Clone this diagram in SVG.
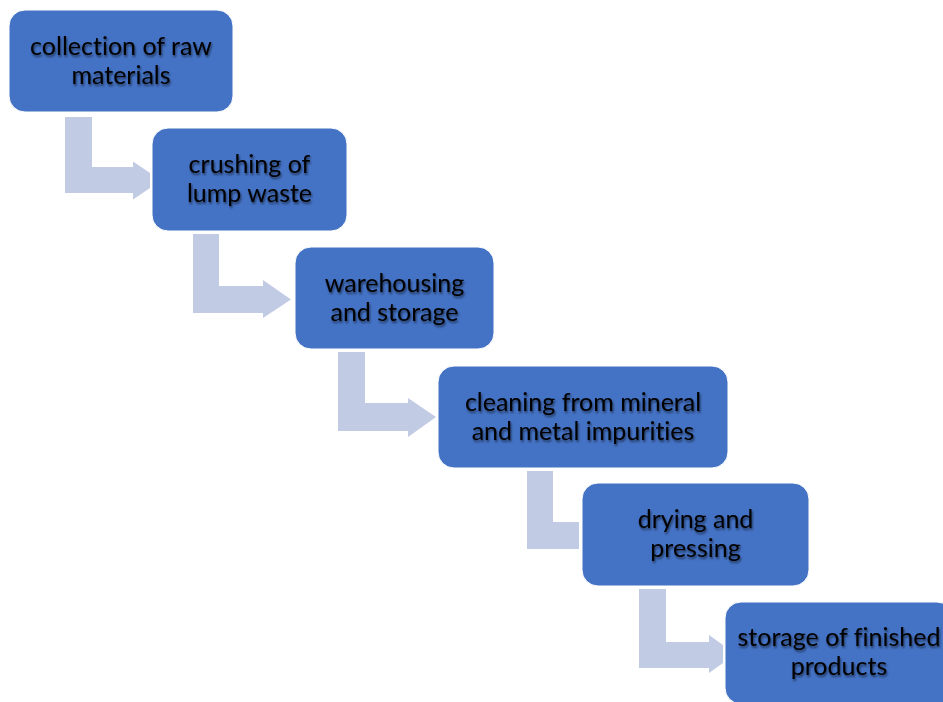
<svg xmlns="http://www.w3.org/2000/svg" width="943" height="702" viewBox="0 0 943 702">
  <defs>
    <filter id="tshadow" x="-10%" y="-30%" width="120%" height="160%">
      <feGaussianBlur in="SourceAlpha" stdDeviation="1.2" result="b"/>
      <feOffset in="b" dx="1" dy="1.5" result="o"/>
      <feComponentTransfer in="o" result="s"><feFuncA type="linear" slope="0.55"/></feComponentTransfer>
      <feMerge><feMergeNode in="s"/><feMergeNode in="SourceGraphic"/></feMerge>
    </filter>
  </defs>
  <style>
    .box { fill: #4472C4; stroke: #ffffff; stroke-width: 1; }
    .arrow { fill: #C2CBE4; stroke: none; }
    .lbl { font-family: Lato, "Liberation Sans", sans-serif; font-size: 25px; fill: #000000; text-anchor: middle; font-variant-ligatures: none; filter: url(#tshadow); }
  </style>
  <rect width="943" height="702" fill="#ffffff"/>
  <g id="connectors">
    <polygon class="arrow" points="65,117 92,117 92,167 133,167 133,161.5 150,173 150,188 133,199.5 133,193 65,193"/>
    <polygon class="arrow" points="193,234 219,234 219,286 263,286 263,280 291,299.5 263,318 263,313 193,313"/>
    <polygon class="arrow" points="338,352 365,352 365,403 408,403 408,398 436,417 408,437 408,431 338,431"/>
    <polygon class="arrow" points="527,471 553,471 553,522 579,522 579,549 527,549"/>
    <polygon class="arrow" points="639,589 666,589 666,642 709,642 709,635 723,645 723,663 709,673 709,668 639,668"/>
  </g>
  <g id="node1">
    <rect class="box" x="9" y="10" width="224" height="102" rx="16"/>
    <text class="lbl" x="121" y="55">collection of raw</text>
    <text class="lbl" x="121" y="84">materials</text>
  </g>
  <g id="node2">
    <rect class="box" x="152" y="128" width="195" height="103" rx="16"/>
    <text class="lbl" x="249.5" y="173">crushing of</text>
    <text class="lbl" x="249.5" y="202">lump waste</text>
  </g>
  <g id="node3">
    <rect class="box" x="295" y="247" width="199" height="102" rx="16"/>
    <text class="lbl" x="394.5" y="292">warehousing</text>
    <text class="lbl" x="394.5" y="321">and storage</text>
  </g>
  <g id="node4">
    <rect class="box" x="438" y="366" width="290" height="102" rx="16"/>
    <text class="lbl" x="583" y="411">cleaning from mineral</text>
    <text class="lbl" x="583" y="440">and metal impurities</text>
  </g>
  <g id="node5">
    <rect class="box" x="582" y="483" width="227" height="103" rx="16"/>
    <text class="lbl" x="695.5" y="528">drying and</text>
    <text class="lbl" x="695.5" y="557">pressing</text>
  </g>
  <g id="node6">
    <rect class="box" x="725" y="602" width="228" height="102" rx="16"/>
    <text class="lbl" x="839" y="646">storage of finished</text>
    <text class="lbl" x="839" y="675">products</text>
  </g>
</svg>
